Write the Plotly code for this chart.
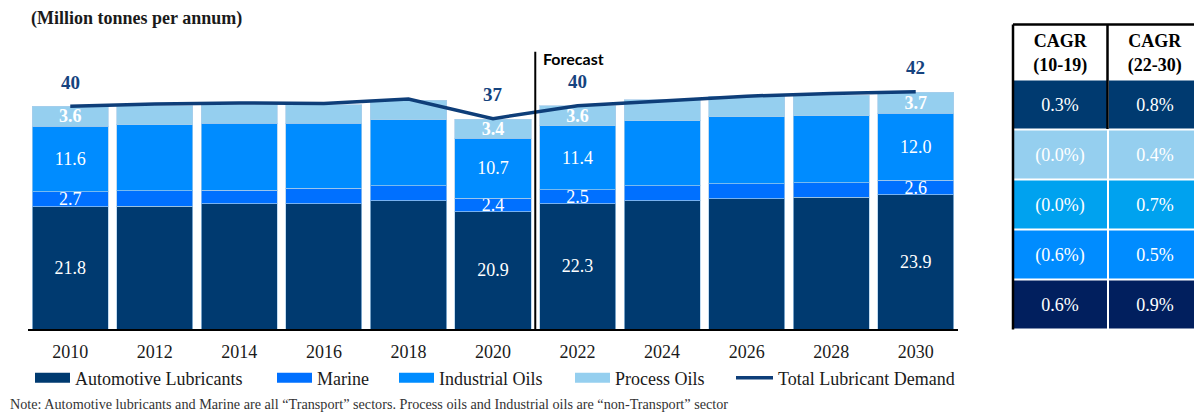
import plotly.graph_objects as go

years = ["2010", "2012", "2014", "2016", "2018", "2020", "2022", "2024", "2026", "2028", "2030"]
automotive = [21.8, 21.9, 22.3, 22.3, 22.9, 20.9, 22.3, 22.9, 23.2, 23.5, 23.9]
marine = [2.7, 2.7, 2.4, 2.8, 2.6, 2.4, 2.5, 2.6, 2.7, 2.6, 2.6]
industrial = [11.6, 11.8, 12.0, 11.6, 11.8, 10.7, 11.4, 11.6, 11.9, 11.9, 12.0]
process = [3.6, 3.4, 3.3, 3.3, 3.5, 3.4, 3.6, 3.8, 3.7, 3.7, 3.7]
total = [39.7, 40.1, 40.3, 40.2, 41.0, 37.5, 39.8, 40.7, 41.5, 42.0, 42.3]
total_labels = ["40", "", "", "", "", "37", "40", "", "", "", "42"]
labeled_years = ["2010", "2020", "2022", "2030"]

cagr_header = ["CAGR (10-19)", "CAGR (22-30)"]
cagr_header_text = ["CAGR<br>(10-19)", "CAGR<br>(22-30)"]
cagr_rows = ["Total", "Process Oils", "Industrial Oils", "Marine", "Automotive"]
cagr_10_19 = ["0.3%", "(0.0%)", "(0.0%)", "(0.6%)", "0.6%"]
cagr_22_30 = ["0.8%", "0.4%", "0.7%", "0.5%", "0.9%"]
cagr_row_colors = ["#003A70", "#95CFEF", "#00A2EF", "#008CFF", "#011F5E"]

SERIF = "Liberation Serif"
C_AUTO = "#003A70"
C_MARINE = "#0070FF"
C_IND = "#008CFF"
C_PROC = "#95CFEF"
C_LINE = "#0E3E79"

# page is rendered with an 8px body margin: layout is computed in page pixels
OFF = 8
FIG_W, FIG_H = 1202 - OFF, 415 - OFF
L, W = 28, 1174          # plot area left / width (page px)
B, H = 329, 309          # plot area bottom / height (page px)
def px(p):
    return (p - L) / W
def py(p):
    return (B - p) / H

def seg_text(vals):
    return [f"{v:.1f}" if y in labeled_years else "" for y, v in zip(years, vals)]

fig = go.Figure()
for name, vals, col, bold in [
    ("Automotive Lubricants", automotive, C_AUTO, False),
    ("Marine", marine, C_MARINE, False),
    ("Industrial Oils", industrial, C_IND, False),
    ("Process Oils", process, C_PROC, True),
]:
    fig.add_trace(go.Bar(
        x=years, y=vals, name=name,
        marker=dict(color=col, line=dict(color="rgba(170,205,235,0.7)", width=1)),
        text=seg_text(vals), textposition="inside", insidetextanchor="middle", textangle=0,
        constraintext="none",
        textfont=dict(family=SERIF, size=18, color="white", weight="bold" if bold else "normal"),
        showlegend=False, hoverinfo="skip",
    ))

fig.add_trace(go.Scatter(x=years, y=total, mode="lines", line=dict(color=C_LINE, width=3.5),
                         showlegend=False, hoverinfo="skip"))

# legend entries (one legend per entry to match spacing)
legend_items = [
    ("Automotive Lubricants", C_AUTO, 10, 35, 36),
    ("Marine", C_MARINE, 10, 35, 278),
    ("Industrial Oils", C_IND, 10, 35, 400),
    ("Process Oils", C_PROC, 10, 35, 576),
    ("Total Lubricant Demand", C_LINE, 3.5, 37, 737),
]
for i, (name, col, lw, iw, sx) in enumerate(legend_items):
    key = "legend" if i == 0 else f"legend{i+1}"
    fig.add_trace(go.Scatter(x=[years[0]], y=[None], mode="lines", name=name,
                             line=dict(color=col, width=lw), legend=key, showlegend=True,
                             hoverinfo="skip"))
    fig.layout[key] = dict(x=px(sx - 6), xanchor="left", y=py(378), yanchor="middle",
                           orientation="h", itemwidth=iw, bgcolor="rgba(0,0,0,0)",
                           font=dict(family=SERIF, size=18, color="#1a1a1a"))

for i, (v, t) in enumerate(zip(total, total_labels)):
    if t:
        fig.add_annotation(x=i, y=v, xref="x", yref="y", text=f"<b>{t}</b>", showarrow=False,
                           yshift=24, font=dict(family=SERIF, size=19, color="#15437E"))

# forecast divider
fig.add_shape(type="line", xref="x", yref="y", x0=5.5, x1=5.5, y0=0, y1=49.4,
              line=dict(color="black", width=2))
fig.add_annotation(x=5.5, y=49.4, xref="x", yref="y", xanchor="left", yanchor="top", xshift=6,
                   yshift=5, text="<b>Forecast</b>", showarrow=False,
                   font=dict(family="Lato", size=16, color="black"))

fig.add_annotation(x=px(29), y=py(18), xref="paper", yref="paper", xanchor="left", yanchor="middle",
                   text="<b>(Million tonnes per annum)</b>", showarrow=False,
                   font=dict(family=SERIF, size=18, color="#1a1a1a"))
fig.add_annotation(x=px(8), y=py(404), xref="paper", yref="paper", xanchor="left",
                   yanchor="middle", showarrow=False,
                   text="Note: Automotive lubricants and Marine are all \u201cTransport\u201d sectors. Process oils and Industrial oils are \u201cnon-Transport\u201d sector",
                   font=dict(family=SERIF, size=14.2, color="#333333"))

# CAGR table as a heatmap of coloured cells
tx0 = px(1013)
n = len(cagr_row_colors)
cscale = []
for i, c in enumerate(cagr_row_colors):
    cscale.append([i / n, c])
    cscale.append([(i + 1) / n, c])
fig.add_trace(go.Heatmap(
    x=cagr_header, y=cagr_rows,
    z=[[i, i] for i in range(n)], zmin=-0.5, zmax=n - 0.5,
    colorscale=cscale, showscale=False,
    text=[[a, b] for a, b in zip(cagr_10_19, cagr_22_30)], texttemplate="%{text}",
    textfont=dict(family=SERIF, size=18, color="white"),
    xgap=2, ygap=2, hoverinfo="skip", xaxis="x2", yaxis="y2",
))
top_tbl = 24.5
hdr_bot = 79.5
fig.add_shape(type="line", xref="paper", yref="paper", x0=tx0, x1=tx0, y0=py(329.5), y1=py(top_tbl),
              line=dict(color="black", width=2.5))
fig.add_shape(type="line", xref="paper", yref="paper", x0=tx0, x1=1, y0=py(top_tbl), y1=py(top_tbl),
              line=dict(color="black", width=2.5))
fig.add_shape(type="line", xref="paper", yref="paper", x0=(tx0 + 1) / 2, x1=(tx0 + 1) / 2,
              y0=py(129), y1=py(top_tbl), line=dict(color="black", width=2.5))

fig.update_layout(
    width=FIG_W, height=FIG_H, autosize=False,
    margin=dict(l=L - OFF, r=0, t=20 - OFF, b=FIG_H - (B - OFF)),
    barmode="stack", bargap=0.1,
    plot_bgcolor="white", paper_bgcolor="white",
    xaxis=dict(domain=[0, px(958)], type="category", categoryorder="array", categoryarray=years,
               range=[-0.5, len(years) - 0.5], showline=True, linecolor="black", linewidth=2,
               ticks="", ticklabelstandoff=5,
               tickfont=dict(family=SERIF, size=18, color="#1a1a1a"), showgrid=False,
               fixedrange=True),
    yaxis=dict(domain=[0, 280.5 / H], range=[0, 50], visible=False, showgrid=False, zeroline=False),
    xaxis2=dict(domain=[tx0, 1], anchor="y2", side="top", type="category",
                tickvals=cagr_header, ticktext=[f"<b>{t}</b>" for t in cagr_header_text],
                tickfont=dict(family=SERIF, size=18, color="black"), ticks="", ticklabelstandoff=4,
                showgrid=False, zeroline=False, showline=False),
    yaxis2=dict(domain=[0, py(hdr_bot)], anchor="x2", autorange="reversed", visible=False,
                showgrid=False, zeroline=False),
    showlegend=True,
)

fig.write_html("out.html")
